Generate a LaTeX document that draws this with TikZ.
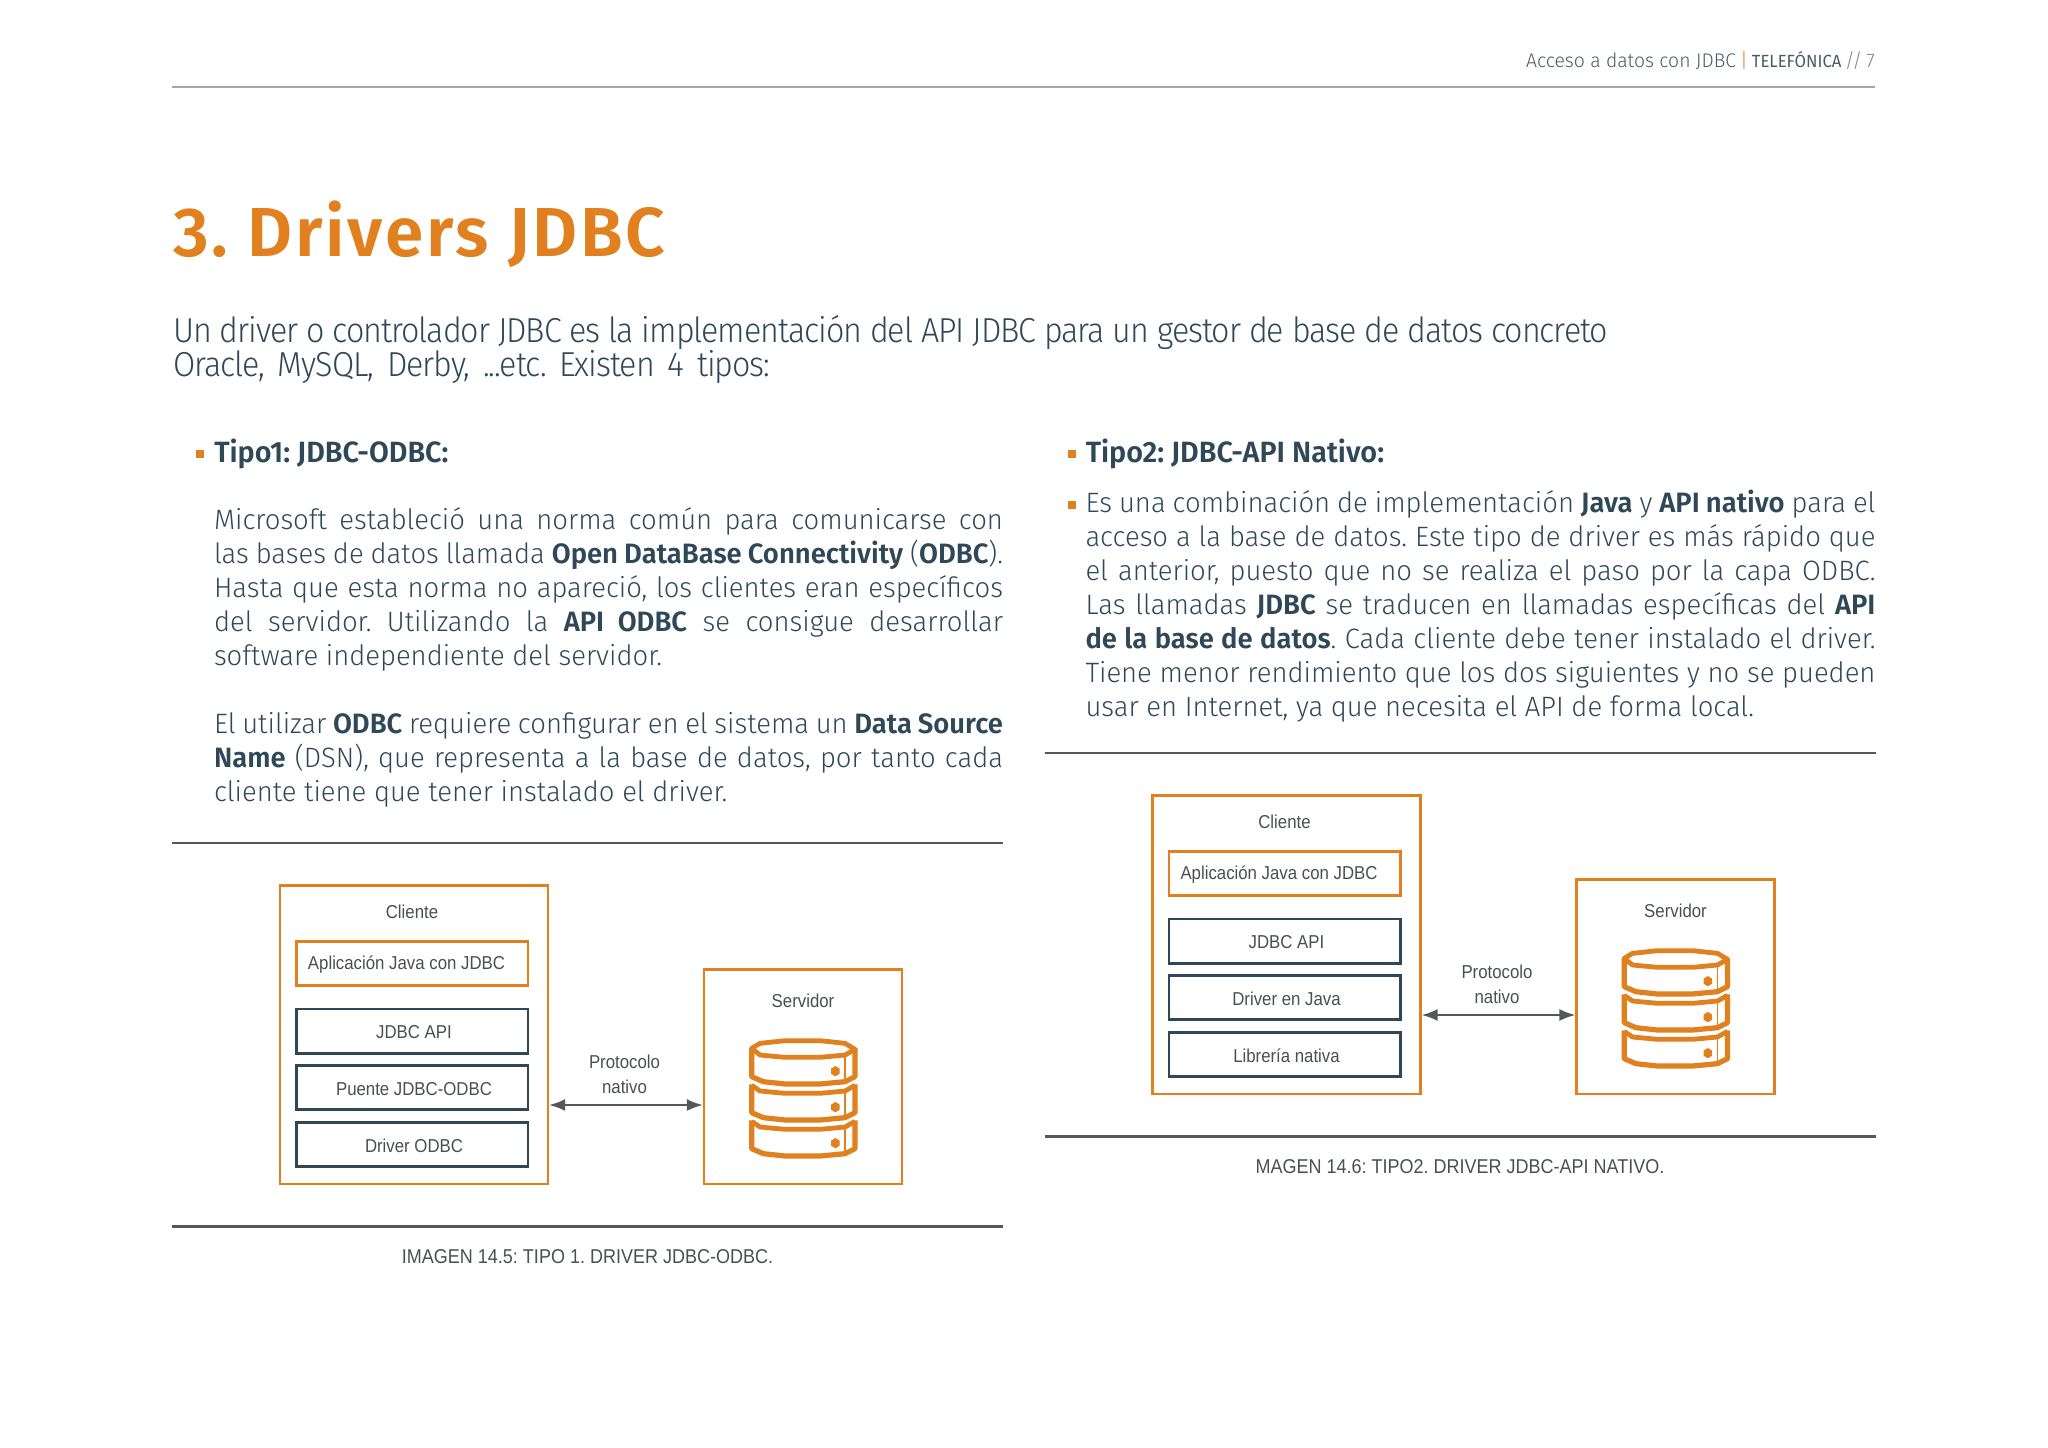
\documentclass[tikz,border=0pt]{standalone}
\usepackage{fontspec}
\setmainfont{Fira Sans Light}[BoldFont=Fira Sans SemiBold,FakeStretch=0.98]
\newfontfamily\subfont{Fira Sans Light}[FakeStretch=0.93,LetterSpace=-3.05]
\newfontfamily\figfont{Liberation Sans}[FakeStretch=0.9]
\newfontfamily\heavyfont{Fira Sans SemiBold}[LetterSpace=3.8]
\newfontfamily\regfont{Fira Sans}[FakeStretch=0.95]
\definecolor{orangeT}{HTML}{E0801F}
\definecolor{slateT}{HTML}{2F4858}
\definecolor{grayT}{HTML}{4A4F52}
\definecolor{headT}{HTML}{4A5C63}
\definecolor{ruleT}{HTML}{55585A}
\frenchspacing
\tolerance=9999
\hyphenpenalty=10000
\emergencystretch=3em
\tikzset{
  px/.style={x=0.75pt,y=-0.75pt},
  para/.style={anchor=north west,inner sep=0pt,outer sep=0pt,text=slateT,align=none,
    font=\fontsize{21}{25.5}\selectfont},
  orbox/.style={draw=orangeT,line width=1.9pt,inner sep=0pt,outer sep=0pt,fill=white},
  slbox/.style={draw=slateT,line width=1.9pt,inner sep=0pt,outer sep=0pt,fill=white},
  figlab/.style={text=grayT,inner sep=0pt,font=\figfont\fontsize{14}{15}\selectfont},
  captext/.style={text=grayT,inner sep=0pt,font=\figfont\fontsize{15}{17}\selectfont},
  hrule/.style={draw=ruleT,line width=1.6pt},
  bull/.style={fill=orangeT,draw=none,minimum size=6pt,inner sep=0pt},
  head/.style={anchor=west,inner sep=0pt,text=slateT,font=\bfseries\fontsize{22}{26}\selectfont},
}
\usetikzlibrary{arrows.meta}
% box between two px corners
\newcommand{\pxbox}[7]{\node[#1,minimum width=#4*0.75pt-#2*0.75pt,minimum height=#5*0.75pt-#3*0.75pt,anchor=north west] (#6) at (#2,#3) {#7};}
\newcommand{\dbicon}{%
  \begin{scope}[shift={(720,1020)},x=0.25pt,y=-0.25pt,draw=orangeT,line join=round]
    \foreach \d in {216,108,0}{
      \fill[white] (95,85+\d) -- (95,170+\d) -- (130,185+\d) -- (195,192+\d) -- (300,192+\d) -- (375,185+\d) -- (405,170+\d) -- (405,85+\d) -- cycle;
      \draw[line width=3.9pt] (95,85+\d) -- (95,170+\d) -- (130,185+\d) -- (195,192+\d) -- (300,192+\d) -- (375,185+\d) -- (405,170+\d) -- (405,85+\d);
      \draw[line width=0.8pt] (375,105+\d) -- (375,183+\d);
      \fill[orangeT] (346,138+\d) -- (359,146+\d) -- (359,161+\d) -- (346,169+\d) -- (333,161+\d) -- (333,146+\d) -- cycle;
    }
    \draw[line width=3.6pt] (95,85) -- (120,70) -- (195,62) -- (300,62) -- (375,70) -- (405,88) -- (375,105) -- (300,112) -- (195,112) -- (120,105) -- cycle;
    \foreach \d in {108,216}{
      \draw[line width=3.6pt] (95,88+\d) -- (120,105+\d) -- (195,112+\d) -- (300,112+\d) -- (375,105+\d) -- (405,88+\d);
    }
  \end{scope}}
% #1 prefix, #2..#4 lower boxes, #5 caption
\newcommand{\diagram}[5]{%
  \coordinate (#1rl) at (172,843);
  \coordinate (#1rr) at (1003,843);
  \coordinate (#1bl) at (172,1226.5);
  \coordinate (#1br) at (1003,1226.5);
  \draw[hrule] (#1rl) -- (#1rr);
  \draw[hrule] (#1bl) -- (#1br);
  \pxbox{orbox}{280}{885.5}{548}{1184}{#1cli}{}
  \pxbox{orbox}{704}{969.5}{902}{1184}{#1srv}{}
  \pxbox{orbox}{296.5}{941.5}{528}{985.5}{#1app}{}
  \pxbox{slbox}{296.5}{1009}{528}{1053.5}{#1a}{}
  \pxbox{slbox}{296.5}{1065.5}{528}{1109.5}{#1b}{}
  \pxbox{slbox}{296.5}{1122.5}{528}{1166.5}{#1c}{}
  \node[figlab] (#1tcli) at (412,911.5) {Cliente};
  \node[figlab] (#1tapp) at (406.5,964.5) {Aplicación Java con JDBC};
  \node[figlab] (#1ta) at (414,1032) {#2};
  \node[figlab] (#1tb) at (414,1089) {#3};
  \node[figlab] (#1tc) at (414,1145.5) {#4};
  \node[figlab] (#1tsrv) at (803,1001) {Servidor};
  \node[figlab] (#1tp) at (624.5,1062) {Protocolo};
  \node[figlab] (#1tn) at (624.5,1087) {nativo};
  \coordinate (#1ay) at (624.5,1105);
  \draw[draw=ruleT,line width=1.6pt,{Latex[length=12pt,width=9pt]}-{Latex[length=12pt,width=9pt]},shorten <=0.8pt,shorten >=0.8pt] (#1cli.east |- #1ay) -- (#1srv.west |- #1ay);
  \dbicon
  \node[captext] (#1capt) at (587.5,1257) {#5};
}
\begin{document}
\begin{tikzpicture}[px]
\useasboundingbox (0,0) rectangle (2048,1448);
% header
\node[anchor=base east,inner sep=0pt,text=headT,font=\fontsize{14.8}{16}\selectfont] (hdr) at (1875,68) {Acceso a datos con JDBC\kern3pt{\color{orangeT}|}\kern3pt{\regfont\fontsize{13.2}{16}\selectfont TELEFÓNICA}\kern2.5pt{\color{gray}/\kern-2pt/\kern3pt7}};
\coordinate (hl) at (172,87); \coordinate (hr) at (1875,87);
\draw[draw=gray!70,line width=0.9pt] (hl) -- (hr);
% title
\node[anchor=base west,inner sep=0pt,text=orangeT,font=\heavyfont\fontsize{52}{60}\selectfont] (title) at (173,256.5) {3. Drivers JDBC};
% subtitle
\node[anchor=north west,inner sep=0pt,text=slateT,align=left,font=\subfont\fontsize{26}{25.5}\selectfont] (sub) at (173,315) {Un driver o controlador JDBC es la implementación del API JDBC para un gestor de base de datos concreto\\ {\spaceskip=9.6pt Oracle, MySQL, Derby, ...etc. Existen 4 tipos:}};
% left column
\node[bull] (b1) at (200,454) {};
\node[head] (h1) at (214,453.5) {Tipo1: JDBC-ODBC:};
\node[para,text width=591.75pt] (p1) at (214,508) {Microsoft estableció una norma común para comunicarse con\linebreak
las bases de datos llamada \textbf{Open DataBase Connectivity} (\textbf{ODBC}).\linebreak
Hasta que esta norma no apareció, los clientes eran específicos\linebreak
del servidor. Utilizando la \textbf{API ODBC} se consigue desarrollar\linebreak
software independiente del servidor.};
\node[para,text width=591.75pt] (p2) at (214,712) {El utilizar \textbf{ODBC} requiere configurar en el sistema un \textbf{Data Source}\linebreak
\textbf{Name} (DSN), que representa a la base de datos, por tanto cada\linebreak
cliente tiene que tener instalado el driver.};
% right column
\node[bull] (b2) at (1072,454) {};
\node[head] (h2) at (1085.5,453.5) {Tipo2: JDBC-API Nativo:};
\node[bull] (b3) at (1072,505) {};
\node[para,text width=592.5pt] (p3) at (1085.5,490.5) {Es una combinación de implementación \textbf{Java} y \textbf{API nativo} para el\linebreak
acceso a la base de datos. Este tipo de driver es más rápido que\linebreak
el anterior, puesto que no se realiza el paso por la capa ODBC.\linebreak
Las llamadas \textbf{JDBC} se traducen en llamadas específicas del \textbf{API}\linebreak
\textbf{de la base de datos}. Cada cliente debe tener instalado el driver.\linebreak
Tiene menor rendimiento que los dos siguientes y no se pueden\linebreak
usar en Internet, ya que necesita el API de forma local.};
% diagrams
\diagram{L}{JDBC API}{Puente JDBC-ODBC}{Driver ODBC}{IMAGEN 14.5: TIPO 1. DRIVER JDBC-ODBC.}
\begin{scope}[shift={(872.5,-90)}]
\diagram{R}{JDBC API}{Driver en Java}{Librería nativa}{MAGEN 14.6: TIPO2. DRIVER JDBC-API NATIVO.}
\end{scope}
\end{tikzpicture}
\end{document}
